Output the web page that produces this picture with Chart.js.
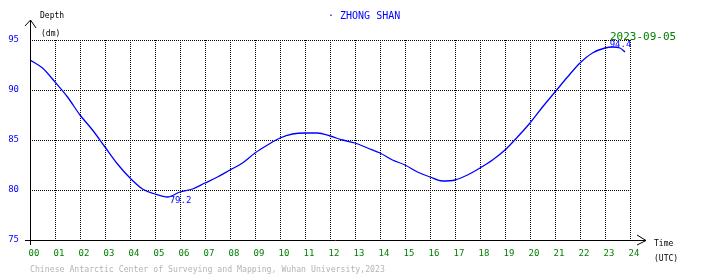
<!DOCTYPE html>
<html>
<head>
<meta charset="utf-8">
<script src="https://cdn.jsdelivr.net/npm/chart.js@4/dist/chart.umd.min.js"></script>
<style>
  html, body { margin: 0; padding: 0; background: #fff; }
  #wrap { width: 710px; height: 278px; }
</style>
</head>
<body>
<div id="wrap"><canvas id="tideChart" width="710" height="278"></canvas></div>
<script>
// tide record, hours UTC and depth in dm
const hours = [0, 0.5, 1, 1.5, 2, 2.5, 3, 3.5, 4, 4.5, 5, 5.5, 6, 6.5, 7, 7.5, 8, 8.5, 9, 9.5,
  10, 10.5, 11, 11.5, 12, 12.5, 13, 13.5, 14, 14.5, 15, 15.5, 16, 16.5, 17, 17.5, 18, 18.5, 19, 19.5,
  20, 20.5, 21, 21.5, 22, 22.5, 23, 23.3, 23.6, 23.8];
const depth = [93.0, 92.2, 90.8, 89.3, 87.5, 86.0, 84.3, 82.6, 81.2, 80.1, 79.6, 79.3, 79.8, 80.1, 80.7, 81.3, 82.0, 82.7, 83.7, 84.5,
  85.2, 85.6, 85.7, 85.7, 85.4, 85.0, 84.7, 84.2, 83.7, 83.0, 82.5, 81.8, 81.3, 80.9, 81.0, 81.5, 82.2, 83.0, 84.0, 85.3,
  86.7, 88.3, 89.8, 91.3, 92.7, 93.7, 94.2, 94.3, 94.2, 93.8];
const yTicks = [75, 80, 85, 90, 95];
const minLabel = { hour: 5.9, value: 79.2, text: '79.2' };
const maxLabel = { hour: 23.5, value: 94.4, text: '94.4' };
const station = 'ZHONG SHAN';
const dateText = '2023-09-05';
const footer = 'Chinese Antarctic Center of Surveying and Mapping, Wuhan University,2023';

const mono = '"DejaVu Sans Mono", monospace';

const decorations = {
  id: 'decorations',
  afterDraw(chart) {
    const ctx = chart.ctx;
    const xs = chart.scales.x;
    const ys = chart.scales.y;
    const x0 = xs.left, y0 = ys.bottom;
    ctx.save();
    // axes with open arrow heads
    ctx.strokeStyle = '#000';
    ctx.lineWidth = 1;
    ctx.beginPath();
    ctx.moveTo(x0 + 0.5, y0 + 5);
    ctx.lineTo(x0 + 0.5, 20);
    ctx.moveTo(x0 - 5, 26);
    ctx.lineTo(x0 + 0.5, 20);
    ctx.lineTo(x0 + 6, 28);
    ctx.moveTo(x0 - 5, y0 + 0.5);
    ctx.lineTo(646, y0 + 0.5);
    ctx.moveTo(637, y0 - 5);
    ctx.lineTo(646, y0 + 0.5);
    ctx.lineTo(637, y0 + 5);
    ctx.stroke();

    ctx.textBaseline = 'middle';
    ctx.textAlign = 'left';
    ctx.fillStyle = '#000';
    ctx.font = '8px ' + mono;
    ctx.fillText('Depth', 40, 16);
    ctx.fillText('(dm)', 41, 34);
    ctx.fillText('Time', 654, 244);
    ctx.fillText('(UTC)', 654, 259);

    ctx.fillStyle = '#0000ff';
    ctx.font = '10px ' + mono;
    ctx.fillText('\u00b7 ' + station, 328, 16);

    ctx.font = '9px ' + mono;
    ctx.textAlign = 'center';
    ctx.fillText(minLabel.text, xs.getPixelForValue(minLabel.hour) + 3, ys.getPixelForValue(minLabel.value) + 3);
    ctx.fillText(maxLabel.text, xs.getPixelForValue(maxLabel.hour) + 3, ys.getPixelForValue(maxLabel.value) - 1);

    ctx.fillStyle = '#008000';
    ctx.font = '11px ' + mono;
    ctx.textAlign = 'left';
    ctx.fillText(dateText, 610, 37);

    ctx.fillStyle = '#b4b4b4';
    ctx.font = '8.2px ' + mono;
    ctx.fillText(footer, 30, 270);
    ctx.restore();
  }
};

new Chart(document.getElementById('tideChart'), {
  type: 'line',
  data: {
    datasets: [{
      data: hours.map((h, i) => ({ x: h, y: depth[i] })),
      borderColor: '#0000ff',
      borderWidth: 1.3,
      pointRadius: 0,
      cubicInterpolationMode: 'monotone',
      fill: false
    }]
  },
  options: {
    responsive: false,
    animation: false,
    layout: { padding: { left: 0, top: 40, right: 80, bottom: 0 } },
    plugins: { legend: { display: false }, tooltip: { enabled: false } },
    scales: {
      x: {
        type: 'linear',
        min: 0,
        max: 24,
        afterFit: scale => { scale.height = 38; },
        afterBuildTicks: scale => {
          scale.ticks = [];
          for (let h = 0; h <= 24; h++) scale.ticks.push({ value: h });
        },
        ticks: {
          autoSkip: false,
          maxRotation: 0,
          padding: 8,
          labelOffset: 4,
          color: '#008000',
          font: { family: mono, size: 9 },
          callback: v => String(v).padStart(2, '0')
        },
        grid: { color: '#000', lineWidth: 1, drawTicks: false },
        border: { display: false, dash: [1, 1] }
      },
      y: {
        min: 75,
        max: 95,
        afterFit: scale => { scale.width = 30; },
        afterBuildTicks: scale => { scale.ticks = yTicks.map(v => ({ value: v })); },
        ticks: {
          padding: 11,
          color: '#0000ff',
          font: { family: mono, size: 9 }
        },
        grid: { color: '#000', lineWidth: 1, drawTicks: false },
        border: { display: false, dash: [1, 1] }
      }
    }
  },
  plugins: [decorations]
});
</script>
</body>
</html>
